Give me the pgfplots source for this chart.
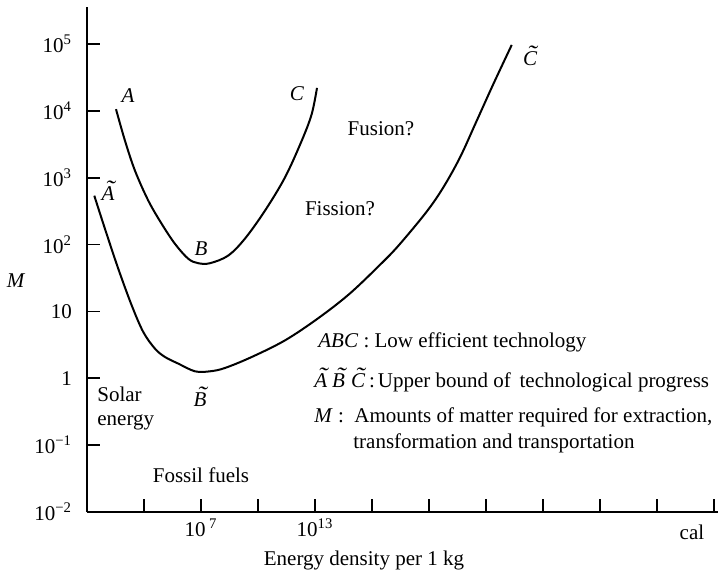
\documentclass[border=0pt]{standalone}
\usepackage{fontspec}
\setmainfont{Liberation Serif}
\usepackage{pgfplots}
\pgfplotsset{compat=1.18}
\newcommand{\fs}{\fontsize{10.5}{12.6}\selectfont}
\newcommand{\tl}[1]{\textit{\ooalign{#1\cr\hidewidth\kern0.18em\raisebox{0.2em}{\scalebox{1.35}[1.1]{˜}}\hidewidth\cr}}}
\begin{document}
\begin{tikzpicture}[font=\fs]
\path[use as bounding box] (-43.5pt,-31pt) rectangle (315.5pt,256pt);
\begin{axis}[
  at={(0pt,0pt)}, anchor=south west,
  scale only axis, width=315.5pt, height=252.5pt,
  xmin=1, xmax=34.21,
  ymode=log, ymin=0.01, ymax=357000,
  axis lines=left,
  axis line style={-, line width=1.2pt, black},
  tick align=inside,
  major tick length=6.5pt,
  minor tick length=0pt,
  tick style={line width=0.85pt, black},
  xtick={4,7,10,13,16,19,22,25,28,31,34},
  xticklabels={,10\,\textsuperscript{7},,10\textsuperscript{13},,,,,,,},
  ytick={0.01,0.1,1,10,100,1000,10000,100000},
  yticklabels={10\textsuperscript{−2},10\textsuperscript{−1},1,10,10\textsuperscript{2},10\textsuperscript{3},10\textsuperscript{4},10\textsuperscript{5}},
  tick label style={font=\fs},
  yticklabel style={xshift=-4pt},
  clip=false,
]
% ABC: low efficient technology
\addplot[black, line width=1pt, smooth, tension=0.55] coordinates {
 (2.526,10593) (3.0,3565) (3.526,1271) (4.226,454) (4.932,203.7) (5.632,102.3)
 (6.332,61.2) (6.858,52.6) (7.474,52.6) (8.437,68.5) (9.316,122.9) (10.368,321.4)
 (11.42,1009) (12.3,3565) (12.826,8933) (13.105,22030)
};
% A~B~C~: upper bound of technological progress
\addplot[black, line width=1pt, smooth, tension=0.55] coordinates {
 (1.384,538) (1.947,171.4) (2.647,43.4) (3.353,12.3) (3.963,4.91) (4.579,2.77)
 (5.105,2.08) (5.805,1.656) (6.684,1.271) (7.474,1.271) (8.263,1.426) (9.668,2.08)
 (11.421,3.69) (13.158,7.87) (14.842,18.6) (16.595,55.7) (17.474,102.3)
 (18.879,310.9) (19.753,716) (20.632,2009) (21.511,7096) (22.384,25060) (23.353,96600)
};
\node[anchor=base] at (axis cs:3.158,13150) {\textit{A}};
\node[anchor=base] at (axis cs:12.05,14090) {\textit{C}};
\node[anchor=base] at (axis cs:2.105,454) {\tl{A}};
\node[anchor=base] at (axis cs:7.0,68.5) {\textit{B}};
\node[anchor=base] at (axis cs:6.947,0.382) {\tl{B}};
\node[anchor=base] at (axis cs:24.316,46990) {\tl{C}};
\node[anchor=base] at (axis cs:16.47,4236) {Fusion?};
\node[anchor=base] at (axis cs:14.316,271) {Fission?};
\node[anchor=base west, inner sep=0pt] at (axis cs:1.526,0.454) {Solar};
\node[anchor=base west, inner sep=0pt] at (axis cs:1.526,0.1988) {energy};
\node[anchor=base] at (axis cs:7.0,0.02805) {Fossil fuels};
\node[anchor=base] at (axis cs:-2.737,22.8) {\textit{M}};
\node[anchor=base] at (axis cs:32.84,0.00382) {cal};
\node[anchor=base] at (axis cs:15.58,0.001563) {Energy density per 1 kg};
\node[anchor=base west, inner sep=0pt] at (axis cs:13.158,2.902) {\textit{ABC} : Low efficient technology};
\node[anchor=base west, inner sep=0pt] at (axis cs:12.947,0.734) {\tl{A}\hspace{2.5pt}\tl{B}\hspace{3pt}\tl{C}\hspace{2pt}:\hspace{1.5pt}Upper bound of\, technological progress};
\node[anchor=base west, inner sep=0pt] at (axis cs:12.947,0.2205) {\textit{M} :};
\node[anchor=base west, inner sep=0pt] at (axis cs:15.05,0.2205) {Amounts of matter required for extraction,};
\node[anchor=base west, inner sep=0pt] at (axis cs:15.0,0.0902) {transformation and transportation};
\end{axis}
\end{tikzpicture}
\end{document}
